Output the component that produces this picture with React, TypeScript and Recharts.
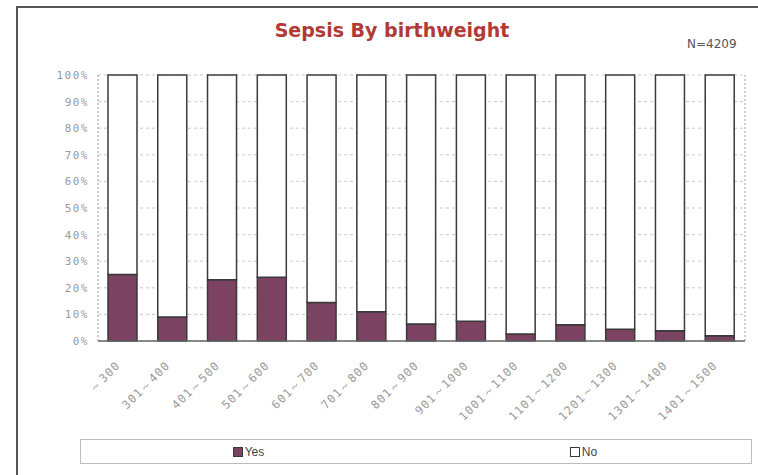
import { BarChart, Bar, XAxis, YAxis, CartesianGrid, Legend } from 'recharts';

const categories = ['～300', '301～400', '401～500', '501～600', '601～700', '701～800', '801～900', '901～1000', '1001～1100', '1101～1200', '1201～1300', '1301～1400', '1401～1500'];
const yesPct = [25, 9, 23, 24, 14.5, 11, 6.4, 7.4, 2.6, 6.1, 4.4, 3.9, 2];
const yTicks = [0, 10, 20, 30, 40, 50, 60, 70, 80, 90, 100];

const data = categories.map((name, i) => ({ name, yes: yesPct[i], no: 100 - yesPct[i] }));

const YES_FILL = '#7c4262';
const EDGE = '#3a3a3a';

const XTick = ({ x, y, payload }: any) => {
    const ax = x - 2;
    const ay = y + 17;
    return (
        <text x={ax} y={ay} transform={`rotate(-45, ${ax}, ${ay})`} textAnchor="end"
            fontFamily="DejaVu Sans Mono" fontSize={11.5} fill="#9a9a9a" letterSpacing={1.2}>
            {payload.value}
        </text>
    );
};

const LegendBox = () => (
    <div style={{ display: 'flex', width: 670, height: 23, border: '1px solid #bdbdbd', fontFamily: 'Liberation Sans', fontSize: 12, color: '#444' }}>
        {[{ label: 'Yes', fill: YES_FILL }, { label: 'No', fill: '#fff' }].map(it => (
            <div key={it.label} style={{ flex: 1, display: 'flex', alignItems: 'center', justifyContent: 'center' }}>
                <span style={{ display: 'inline-block', width: 8, height: 8, background: it.fill, border: `1px solid ${EDGE}`, marginRight: 2 }} />
                {it.label}
            </div>
        ))}
    </div>
);

const App = () => {
    return (
        <div style={{ position: 'absolute', left: 0, top: 0, width: 758, height: 475, background: '#fff', overflow: 'hidden' }}>
            <div style={{ position: 'absolute', left: 16, top: 6, width: 760, height: 480, border: '2px solid #555' }} />
            <div style={{ position: 'absolute', left: 0, top: 19, width: 784, textAlign: 'center', fontFamily: 'DejaVu Sans', fontWeight: 'bold', fontSize: 19, color: '#b23a36' }}>
                Sepsis By birthweight
            </div>
            <div style={{ position: 'absolute', left: 687, top: 37, fontFamily: 'DejaVu Sans', fontSize: 12, color: '#555' }}>
                N=4209
            </div>
            <BarChart width={758} height={475} data={data} margin={{ top: 75, right: 13, left: 0, bottom: 54 }} barSize={29}>
                <CartesianGrid vertical={false} stroke="#c8c8c8" strokeDasharray="3 3" />
                <CartesianGrid horizontal={false} stroke="#999" strokeDasharray="2 2"
                    verticalCoordinatesGenerator={({ offset }: any) => [offset.left + offset.width]} />
                <XAxis dataKey="name" height={80} tick={<XTick />} tickLine={false} axisLine={{ stroke: '#666', strokeWidth: 1.5 }} interval={0} />
                <YAxis domain={[0, 100]} ticks={yTicks} width={98} tickFormatter={(v) => `${v}%`} tickLine={false}
                    axisLine={{ stroke: '#999', strokeDasharray: '2 2' }} tickMargin={3}
                    tick={{ fontFamily: 'DejaVu Sans Mono', fontSize: 11, fill: '#9a9a9a', letterSpacing: 1.5 }} />
                <Bar dataKey="yes" stackId="a" fill={YES_FILL} stroke={EDGE} strokeWidth={1.5} isAnimationActive={false} />
                <Bar dataKey="no" stackId="a" fill="#fff" stroke={EDGE} strokeWidth={1.5} isAnimationActive={false} />
                <Legend layout="horizontal" verticalAlign="middle" align="center" content={<LegendBox />}
                    wrapperStyle={{ left: 80, top: 439, width: 672, height: 25 }} />
            </BarChart>
        </div>
    );
};

export default App;
